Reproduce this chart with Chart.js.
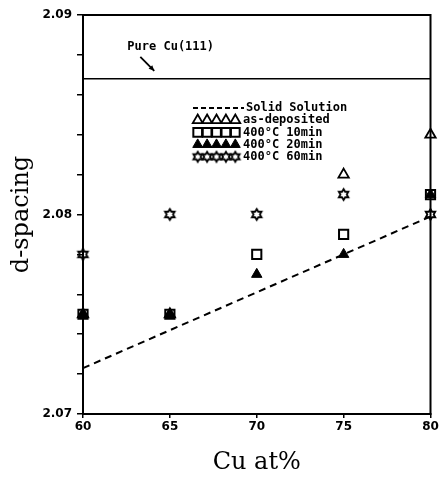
<!DOCTYPE html>
<html>
<head>
<meta charset="utf-8">
<script src="https://cdn.jsdelivr.net/npm/chart.js@4.4.1/dist/chart.umd.min.js"></script>
<style>
  html, body { margin: 0; padding: 0; background: #fff; }
  #wrap { width: 439px; height: 480px; }
</style>
</head>
<body>
<div id="wrap"><canvas id="dChart"></canvas></div>
<script>
// data
const cuAt = [60, 65, 70, 75, 80];
const asDeposited = [2.075, 2.075, null, 2.082, 2.084];
const anneal10 = [2.075, 2.075, 2.078, 2.079, 2.081];
const anneal20 = [2.075, 2.075, 2.077, 2.078, 2.081];
const anneal60 = [2.078, 2.080, 2.080, 2.081, 2.080];
const solidX = [60, 80];
const solidY = [2.0723, 2.0799];
const pureCuX = [60, 80];
const pureCuY = [2.0868, 2.0868];
const yLabelled = [2.07, 2.08, 2.09];
const legendLabels = ['Solid Solution', 'as-deposited', '400°C 10min', '400°C 20min', '400°C 60min'];
const pureCuText = 'Pure Cu(111)';
const pureCuTextAt = [62.55, 2.0884];
const pureCuArrow = [[63.3, 2.0879], [64.1, 2.0872]];

const toPts = (xs, ys) => xs.map((x, i) => ({ x: x, y: ys[i] })).filter(p => p.y !== null);

// hollow six-pointed star marker
function makeStar(R) {
    const c = document.createElement('canvas');
    c.width = c.height = Math.ceil(R * 2 + 4);
    const g = c.getContext('2d');
    const cx = c.width / 2, cy = c.height / 2, r = R / Math.sqrt(3);
    g.beginPath();
    for (let i = 0; i < 12; i++) {
        const rad = (i % 2 === 0) ? R : r;
        const a = -Math.PI / 2 + i * Math.PI / 6;
        const px = cx + rad * Math.cos(a), py = cy + rad * Math.sin(a);
        i === 0 ? g.moveTo(px, py) : g.lineTo(px, py);
    }
    g.closePath();
    g.lineWidth = 1.8;
    g.strokeStyle = '#000';
    g.stroke();
    return c;
}
const starImg = makeStar(5.5);
const starLegend = makeStar(5);

const datasets = [
    { label: legendLabels[0], data: toPts(solidX, solidY), showLine: true, borderColor: '#000', borderWidth: 2,
      borderDash: [7, 5], pointRadius: 0, legendKind: 'line' },
    { label: 'Pure Cu', data: toPts(pureCuX, pureCuY), showLine: true, borderColor: '#000', borderWidth: 1.5,
      pointRadius: 0 },
    { label: legendLabels[1], data: toPts(cuAt, asDeposited), pointStyle: 'triangle', pointRadius: 6,
      borderColor: '#000', backgroundColor: 'rgba(0,0,0,0)', borderWidth: 1.8, legendKind: 'point' },
    { label: legendLabels[2], data: toPts(cuAt, anneal10), pointStyle: 'rect', pointRadius: 6.5,
      borderColor: '#000', backgroundColor: 'rgba(0,0,0,0)', borderWidth: 2, legendKind: 'point' },
    { label: legendLabels[3], data: toPts(cuAt, anneal20), pointStyle: 'triangle', pointRadius: 6,
      borderColor: '#000', backgroundColor: '#000', borderWidth: 1, legendKind: 'point' },
    { label: legendLabels[4], data: toPts(cuAt, anneal60), pointStyle: starImg, pointRadius: 6,
      borderColor: '#000', backgroundColor: 'rgba(0,0,0,0)', borderWidth: 1.5, legendKind: 'point',
      legendStyle: starLegend }
];
datasets.forEach(ds => { ds.clip = false; });

// frame, Pure Cu note with arrow, and the in-plot legend
const decor = {
    id: 'decor',
    afterDatasetsDraw(chart) {
        const { ctx, chartArea: a, scales: { x, y } } = chart;
        ctx.save();
        ctx.strokeStyle = '#000';
        ctx.fillStyle = '#000';
        ctx.lineWidth = 2;
        ctx.setLineDash([]);
        ctx.strokeRect(a.left, a.top, a.right - a.left, a.bottom - a.top);

        ctx.font = 'bold 12px "DejaVu Sans Mono"';
        ctx.textBaseline = 'middle';
        ctx.fillText(pureCuText, x.getPixelForValue(pureCuTextAt[0]), y.getPixelForValue(pureCuTextAt[1]));

        const x0 = x.getPixelForValue(pureCuArrow[0][0]), y0 = y.getPixelForValue(pureCuArrow[0][1]);
        const x1 = x.getPixelForValue(pureCuArrow[1][0]), y1 = y.getPixelForValue(pureCuArrow[1][1]);
        ctx.lineWidth = 1.8;
        ctx.beginPath(); ctx.moveTo(x0, y0); ctx.lineTo(x1, y1); ctx.stroke();
        const ang = Math.atan2(y1 - y0, x1 - x0);
        ctx.beginPath();
        ctx.moveTo(x1, y1);
        ctx.lineTo(x1 - 6 * Math.cos(ang - 0.45), y1 - 6 * Math.sin(ang - 0.45));
        ctx.lineTo(x1 - 6 * Math.cos(ang + 0.45), y1 - 6 * Math.sin(ang + 0.45));
        ctx.closePath(); ctx.fill();

        // legend
        const lx = a.left + 110, ly = a.top + 93, rowH = 12.2, cell = 9.4;
        let row = 0;
        chart.data.datasets.forEach(ds => {
            if (!ds.legendKind) return;
            const yy = ly + row * rowH;
            ctx.strokeStyle = '#000';
            if (ds.legendKind === 'line') {
                ctx.lineWidth = 2;
                ctx.setLineDash([5, 3]);
                ctx.beginPath(); ctx.moveTo(lx, yy); ctx.lineTo(lx + cell * 5 + 4, yy); ctx.stroke();
                ctx.setLineDash([]);
            } else {
                for (let i = 0; i < 5; i++) {
                    ctx.fillStyle = ds.backgroundColor;
                    ctx.lineWidth = ds.borderWidth;
                    Chart.helpers.drawPoint(ctx, { pointStyle: ds.legendStyle || ds.pointStyle, radius: ds.pointRadius * 0.95,
                        rotation: 0, borderWidth: ds.borderWidth }, lx + cell / 2 + i * cell, yy);
                }
            }
            ctx.fillStyle = '#000';
            ctx.font = 'bold 12px "DejaVu Sans Mono"';
            ctx.fillText(ds.label, lx + cell * 5 + (ds.legendKind === 'line' ? 6 : 3), yy);
            row++;
        });
        ctx.restore();
    }
};

new Chart(document.getElementById('dChart').getContext('2d'), {
    type: 'scatter',
    data: { datasets: datasets },
    options: {
        responsive: true,
        maintainAspectRatio: false,
        animation: false,
        layout: { padding: { top: 15, right: 6, left: 0, bottom: 0 } },
        plugins: { legend: { display: false }, tooltip: { enabled: false } },
        scales: {
            x: {
                type: 'linear', min: 60, max: 80,
                ticks: { stepSize: 5, color: '#000', padding: 2, font: { family: 'DejaVu Sans', weight: 'bold', size: 12 } },
                grid: { drawOnChartArea: false, tickLength: 4, color: '#000', lineWidth: 1.5 },
                border: { color: '#000', width: 2 },
                title: { display: true, text: 'Cu at%', color: '#000', padding: { top: 4, bottom: 3 },
                         font: { family: 'DejaVu Serif', size: 24 } },
                afterFit(s) { s.height = 66; s.paddingRight = 0; s.paddingLeft = 0; }
            },
            y: {
                min: 2.07, max: 2.09,
                ticks: {
                    stepSize: 0.002, color: '#000', padding: 5, autoSkip: false,
                    font: { family: 'DejaVu Sans', weight: 'bold', size: 12 },
                    callback: v => yLabelled.some(t => Math.abs(t - v) < 1e-7) ? v.toFixed(2) : ''
                },
                grid: { drawOnChartArea: false, tickLength: 6, color: '#000', lineWidth: 1.5 },
                border: { color: '#000', width: 2 },
                title: { display: true, text: 'd-spacing', color: '#000', padding: { top: 7, bottom: 0 },
                         font: { family: 'DejaVu Serif', size: 24 } },
                afterFit(s) { s.width = 83; }
            }
        }
    },
    plugins: [decor]
});
</script>
</body>
</html>
